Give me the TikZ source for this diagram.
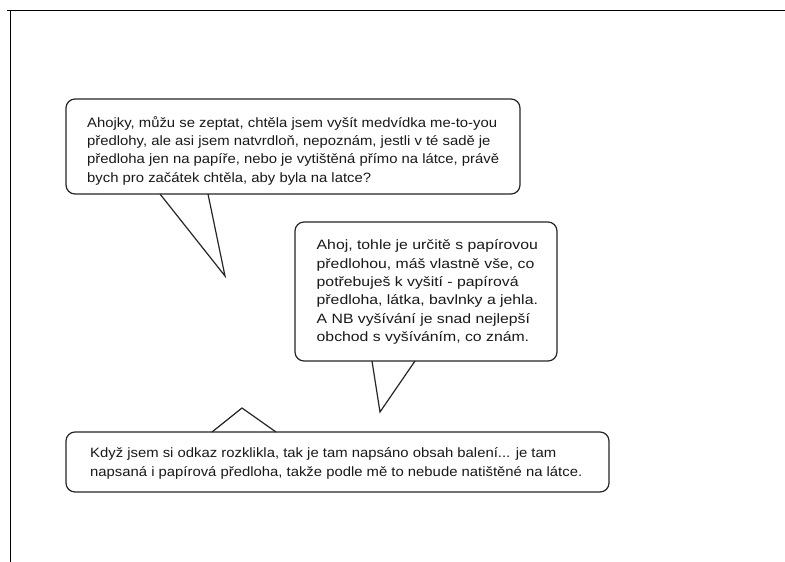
\documentclass[tikz,border=0pt]{standalone}
\usepackage{fontspec}
\usepackage{graphicx}
\setmainfont{Liberation Sans}
\newcommand\bubtext[2]{\scalebox{#1}[1]{\begin{tabular}{@{}l@{}}#2\end{tabular}}}
\begin{document}
\begin{tikzpicture}[x=1pt,y=-1pt,
  bubble/.style={draw=black!85, line width=1.2pt, rounded corners=9pt, fill=white, inner sep=0pt},
  tailline/.style={draw=black!85, line width=1.2pt, line join=miter},
  btext/.style={anchor=west, align=left, inner sep=0pt, font=\fontsize{13.5}{18.3}\selectfont, text=black!90}]
\useasboundingbox (0,0) rectangle (785,562);
\fill[white] (0,0) rectangle (785,562);
% frame
\coordinate (fl) at (7,10.5);
\coordinate (fr) at (785,10.5);
\coordinate (fc) at (10.5,10.5);
\coordinate (fb) at (10.5,562);
\draw[line width=1.6pt] (fl) -- (fr);
\draw[line width=1.6pt] (fc) -- (fb);
% bubble 1
\node[bubble, minimum width=454pt, minimum height=95pt] (b1) at (293,146.5) {};
\coordinate (t1a) at (160,194);
\coordinate (t1tip) at (225,276);
\coordinate (t1b) at (208,194);
\fill[white] ([yshift=-2pt]t1a) -- (t1tip) -- ([yshift=-2pt]t1b) -- cycle;
\draw[tailline] (t1a) -- (t1tip) -- (t1b);
\node[btext] (x1) at (87,151) {\bubtext{1.10}{Ahojky, můžu se zeptat, chtěla jsem vyšít medvídka me-to-you\\předlohy, ale asi jsem natvrdloň, nepoznám, jestli v té sadě je\\předloha jen na papíře, nebo je vytištěná přímo na látce, právě\\bych pro začátek chtěla, aby byla na latce?}};
% bubble 2
\node[bubble, minimum width=262pt, minimum height=139pt] (b2) at (426,291.5) {};
\coordinate (t2a) at (372,361);
\coordinate (t2tip) at (380,412);
\coordinate (t2b) at (415,361);
\fill[white] ([yshift=-2pt]t2a) -- (t2tip) -- ([yshift=-2pt]t2b) -- cycle;
\draw[tailline] (t2a) -- (t2tip) -- (t2b);
\node[btext] (x2) at (316.5,292) {\bubtext{1.17}{Ahoj, tohle je určitě s papírovou\\předlohou, máš vlastně vše, co\\potřebuješ k vyšití - papírová\\předloha, látka, bavlnky a jehla.\\A NB vyšívání je snad nejlepší\\obchod s vyšíváním, co znám.}};
% bubble 3
\node[bubble, minimum width=543pt, minimum height=60pt] (b3) at (337.5,462) {};
\coordinate (t3a) at (212,432);
\coordinate (t3tip) at (242,408);
\coordinate (t3b) at (276,432);
\fill[white] ([yshift=2pt]t3a) -- (t3tip) -- ([yshift=2pt]t3b) -- cycle;
\draw[tailline] (t3a) -- (t3tip) -- (t3b);
\node[btext] (x3) at (90,463) {\bubtext{1.10}{Když jsem si odkaz rozklikla, tak je tam napsáno obsah balení... je tam\\[1pt]napsaná i papírová předloha, takže podle mě to nebude natištěné na látce.}};
\end{tikzpicture}
\end{document}
